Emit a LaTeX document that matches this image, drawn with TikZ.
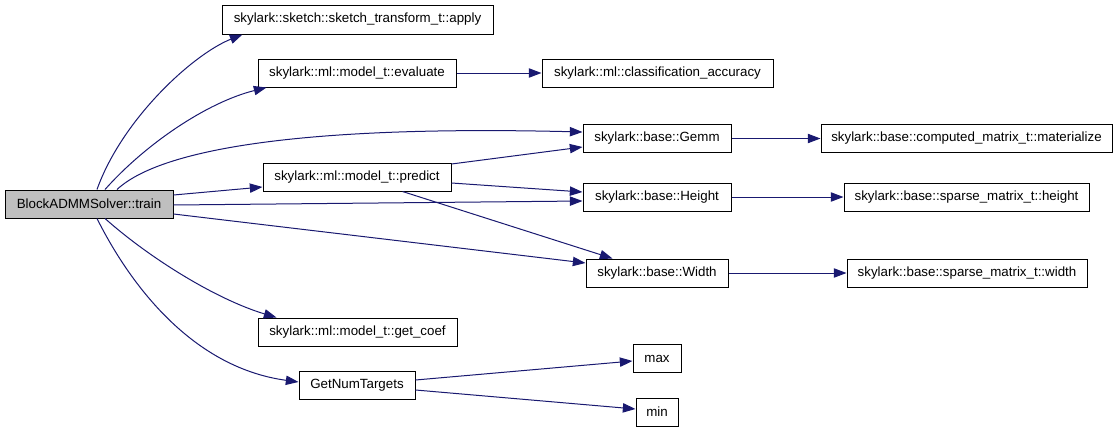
\documentclass[tikz,border=0pt]{standalone}
\usepackage{fontspec}
\setmainfont{Liberation Sans}
\usetikzlibrary{arrows.meta,calc}
\definecolor{dnavy}{HTML}{191970}
\definecolor{dgrey}{HTML}{BFBFBF}
\tikzset{
  fn/.style={draw=black,fill=white,line width=0.75pt,minimum height=21pt,inner sep=0pt,font=\fontsize{10}{12}\selectfont},
  root/.style={fn,fill=dgrey},
  call/.style={-{Triangle[length=9.5pt,width=7pt]},line width=0.75pt,draw=dnavy},
}

\begin{document}
\begin{tikzpicture}[x=0.75pt,y=-0.75pt]
  \useasboundingbox (0,0) rectangle (1117,432);
  \node[root,minimum width=126pt] (train) at (89,204) {BlockADMMSolver::train};
  \node[fn,minimum width=203.25pt,minimum height=21.75pt] (apply) at (357.5,19.5) {skylark::sketch::sketch\_transform\_t::apply};
  \node[fn,minimum width=148.5pt] (evaluate) at (357,73) {skylark::ml::model\_t::evaluate};
  \node[fn,minimum width=173.25pt] (classacc) at (657.5,73) {skylark::ml::classification\_accuracy};
  \node[fn,minimum width=111pt] (gemm) at (657,138.5) {skylark::base::Gemm};
  \node[fn,minimum width=218.25pt] (materialize) at (966.5,138.5) {skylark::base::computed\_matrix\_t::materialize};
  \node[fn,minimum width=141pt] (predict) at (357,177) {skylark::ml::model\_t::predict};
  \node[fn,minimum width=111pt] (height) at (657,197) {skylark::base::Height};
  \node[fn,minimum width=183.75pt] (sheight) at (966.5,197) {skylark::base::sparse\_matrix\_t::height};
  \node[fn,minimum width=106.5pt] (width) at (657,273) {skylark::base::Width};
  \node[fn,minimum width=180pt] (swidth) at (967,273) {skylark::base::sparse\_matrix\_t::width};
  \node[fn,minimum width=149.25pt] (getcoef) at (357.5,332) {skylark::ml::model\_t::get\_coef};
  \node[fn,minimum width=87pt] (getnum) at (357,385) {GetNumTargets};
  \node[fn,minimum width=36pt] (max) at (657,358.5) {max};
  \node[fn,minimum width=31.5pt] (min) at (657,412) {min};
  % calls from train
  \draw[call] ($(train.north)+(8,0)$) .. controls +(25,-70) and +(-50,20) .. ($(apply.south west)+(21,0)$);
  \draw[call] ($(train.north)+(16,0)$) .. controls +(40,-45) and +(-60,15) .. ($(evaluate.south west)+(9,0)$);
  \draw[call] ($(train.north)+(28,0)$) .. controls +(43,-40) and +(-283,-7) .. ($(gemm.west)+(0,-6.5)$);
  \draw[call] ($(train.east)+(0,-9)$) -- ($(predict.west)+(0,10)$);
  \draw[call] ($(train.east)+(0,1)$) -- ($(height.west)+(0,4)$);
  \draw[call] ($(train.east)+(0,10)$) -- ($(width.west)+(0,-10)$);
  \draw[call] ($(train.south)+(16,0)$) .. controls +(45,40) and +(-60,-18) .. ($(getcoef.north west)+(19,0)$);
  \draw[call] ($(train.south)+(8,0)$) .. controls +(30,60) and +(-110,-15) .. ($(getnum.west)+(0,-3)$);
  % calls from predict and GetNumTargets
  \draw[call] ($(predict.east)+(0,-13)$) -- ($(gemm.west)+(0,8.5)$);
  \draw[call] ($(predict.east)+(0,6)$) -- ($(height.west)+(0,-5)$);
  \draw[call] ($(predict.south east)+(-49,0)$) -- ($(width.north west)+(27,0)$);
  \draw[call] ($(getnum.east)+(0,-5)$) -- ($(max.west)+(0,2.5)$);
  \draw[call] ($(getnum.east)+(0,5)$) -- ($(min.west)+(0,-3)$);
  \foreach \a/\b in {evaluate/classacc,gemm/materialize,height/sheight,width/swidth}
    \draw[call] (\a.east) -- (\b.west);
\end{tikzpicture}
\end{document}
